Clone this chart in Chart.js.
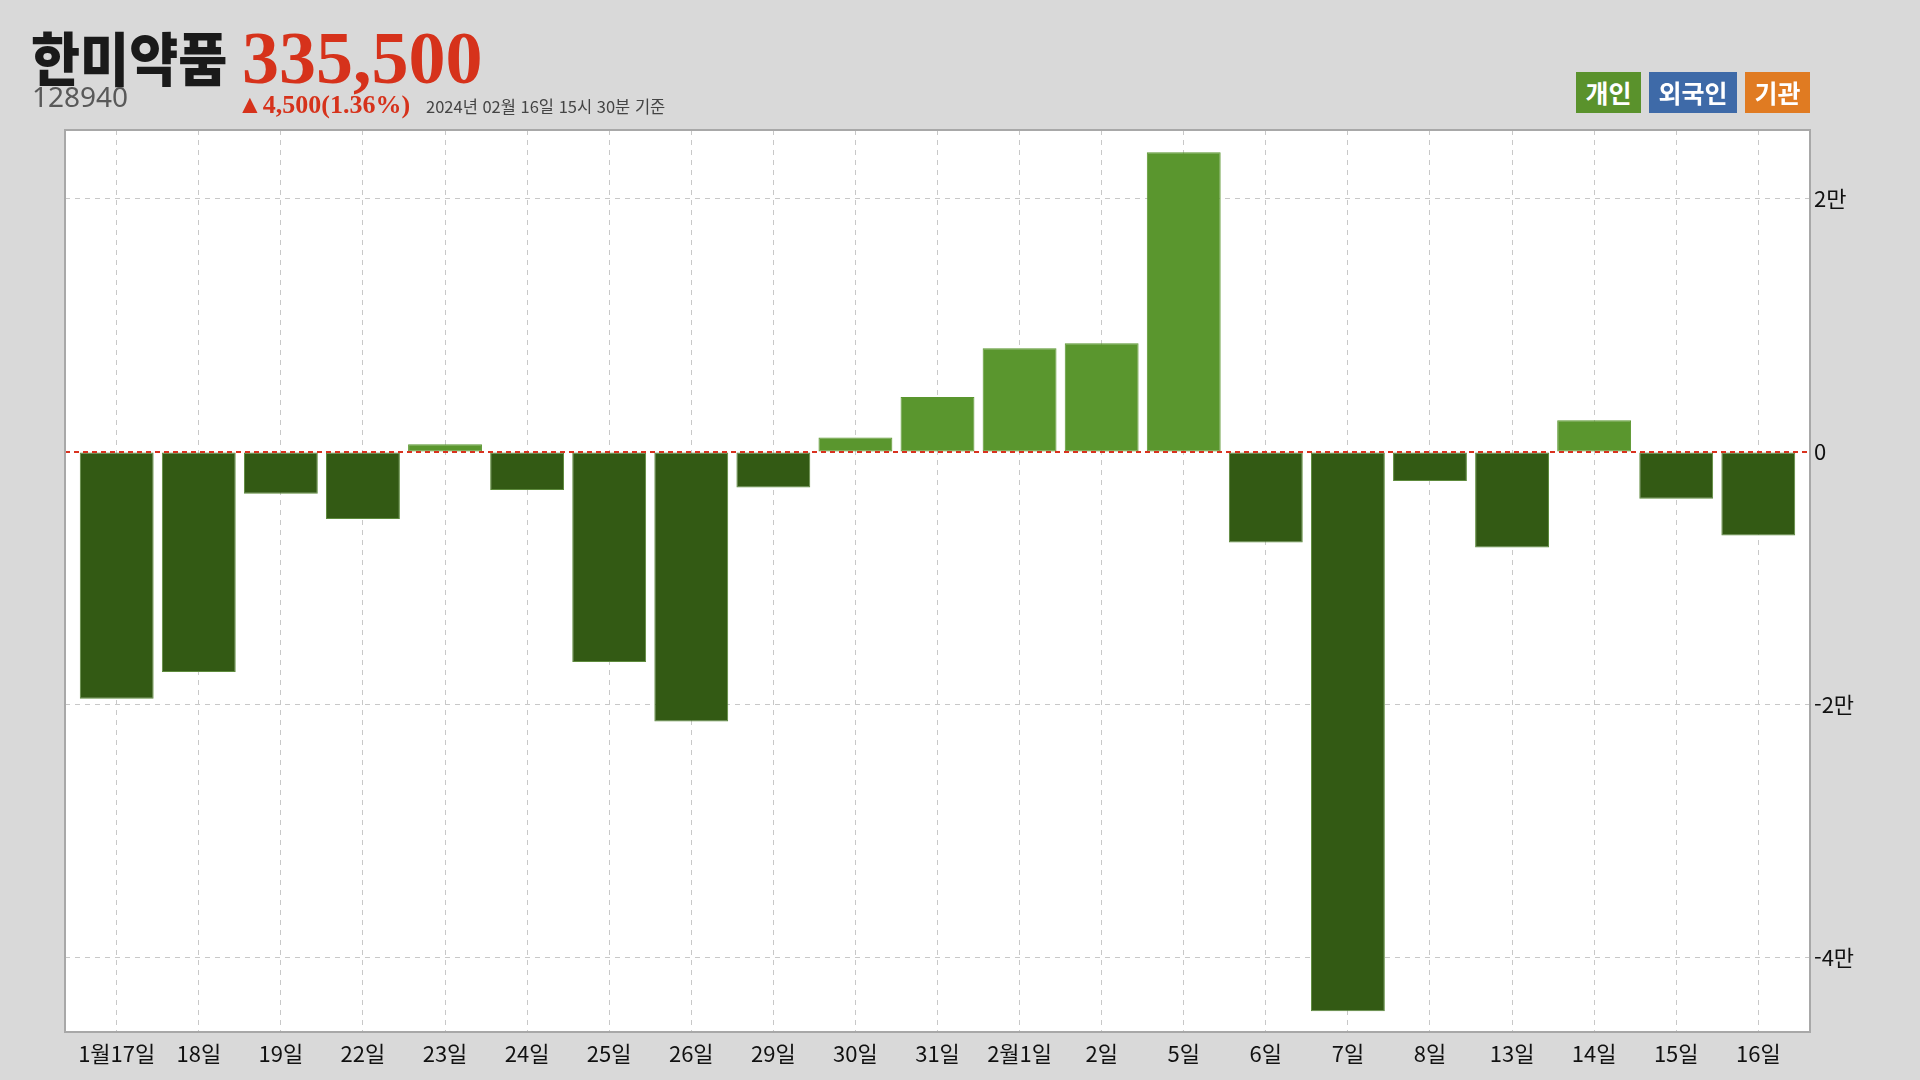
<!DOCTYPE html>
<html lang="ko">
<head>
<meta charset="utf-8">
<script src="https://cdn.jsdelivr.net/npm/chart.js@4.4.1/dist/chart.umd.min.js"></script>
<style>
  html, body { margin: 0; padding: 0; background: #d9d9d9; width: 1920px; height: 1080px; overflow: hidden; }
  #wrap { position: relative; width: 1920px; height: 1080px; }
  canvas { position: absolute; left: 0; top: 0; }
  .t { position: absolute; white-space: nowrap; line-height: 1; }
  #name { left: 31px; top: 27px; font-family: "Noto Sans CJK KR"; font-weight: 900; font-size: 58px; color: #1a1a1a; transform: scaleX(0.92); transform-origin: left top; }
  #price { left: 242px; top: 21px; font-family: "Liberation Serif"; font-weight: 700; font-size: 74px; color: #d6321b; }
  #code { left: 32px; top: 82px; font-family: "Noto Sans"; font-size: 28px; color: #595959; }
  #chg { left: 237px; top: 92px; font-family: "Liberation Serif"; font-weight: 700; font-size: 26px; color: #d6321b; }
  #date { left: 426px; top: 98px; font-family: "Noto Sans CJK KR"; font-size: 16.5px; color: #444; }
  .lg { position: absolute; top: 72px; height: 41px; line-height: 41px; text-align: center; color: #fff; font-family: "Noto Sans CJK KR"; font-weight: 700; font-size: 25px; }
</style>
</head>
<body>
<div id="wrap">
  <canvas id="c" width="1920" height="1080"></canvas>
  <div class="t" id="name">한미약품</div>
  <div class="t" id="price">335,500</div>
  <div class="t" id="code">128940</div>
  <div class="t" id="chg">▲4,500(1.36%)</div>
  <div class="t" id="date">2024년 02월 16일 15시 30분 기준</div>
  <div class="lg" style="left:1576px;width:65px;background:#5a922c;">개인</div>
  <div class="lg" style="left:1649px;width:88px;background:#3e6aa8;">외국인</div>
  <div class="lg" style="left:1745px;width:65px;background:#e07b22;">기관</div>
</div>
<script>
const categories = ["1월17일","18일","19일","22일","23일","24일","25일","26일","29일","30일","31일","2월1일","2일","5일","6일","7일","8일","13일","14일","15일","16일"];
const individualNet = [-19500,-17400,-3300,-5300,600,-3000,-16600,-21300,-2800,1150,4350,8200,8600,23700,-7150,-44200,-2300,-7550,2500,-3700,-6600];
const yTickValues = [-40000,-20000,0,20000];
const yMin = -45850;
const yMax = 25450;
const xPad = 0.63;

const posColor = '#5a962e';
const negColor = '#335a14';

const frame = {
  id: 'frame',
  beforeDraw(chart) {
    const a = chart.chartArea, ctx = chart.ctx;
    ctx.save();
    ctx.fillStyle = '#ffffff';
    ctx.fillRect(a.left, a.top, a.right - a.left, a.bottom - a.top);
    ctx.restore();
  },
  afterDatasetsDraw(chart) {
    const a = chart.chartArea, ctx = chart.ctx;
    const y0 = chart.scales.y.getPixelForValue(0);
    ctx.save();
    ctx.strokeStyle = '#d9321f';
    ctx.lineWidth = 2;
    ctx.setLineDash([5, 4]);
    ctx.beginPath();
    ctx.moveTo(a.left, y0);
    ctx.lineTo(a.right, y0);
    ctx.stroke();
    ctx.restore();
  },
  afterDraw(chart) {
    const a = chart.chartArea, ctx = chart.ctx;
    ctx.save();
    ctx.strokeStyle = '#a8a8a8';
    ctx.lineWidth = 2;
    ctx.strokeRect(a.left, a.top, a.right - a.left, a.bottom - a.top);
    ctx.restore();
  }
};

new Chart(document.getElementById('c'), {
  type: 'bar',
  data: {
    datasets: [{
      label: '개인',
      data: individualNet.map((v, i) => ({ x: i, y: v })),
      backgroundColor: individualNet.map(v => v >= 0 ? posColor : negColor),
      borderColor: individualNet.map(v => v >= 0 ? posColor : '#5d8a3c'),
      borderWidth: 1,
      borderSkipped: false,
      barPercentage: 0.9,
      categoryPercentage: 1.0
    }]
  },
  options: {
    responsive: false,
    devicePixelRatio: 1,
    animation: false,
    layout: { padding: { top: 130, left: 65, right: 0, bottom: 0 } },
    plugins: { legend: { display: false }, tooltip: { enabled: false } },
    scales: {
      x: {
        type: 'linear',
        offset: false,
        min: -xPad,
        max: categories.length - 1 + xPad,
        afterBuildTicks(s) { s.ticks = categories.map((c, i) => ({ value: i })); },
        grid: { offset: false, color: '#c8c8c8', lineWidth: 1, drawTicks: false },
        border: { display: false, dash: [5, 5] },
        ticks: {
          color: '#111', font: { family: 'Noto Sans CJK KR', size: 22 }, padding: 8, maxRotation: 0, autoSkip: false,
          callback: v => categories[v]
        },
        afterFit(s) { s.height = 48; }
      },
      y: {
        position: 'right',
        min: yMin,
        max: yMax,
        afterBuildTicks(s) { s.ticks = yTickValues.map(v => ({ value: v })); },
        grid: { color: ctx => (ctx.tick && ctx.tick.value === 0) ? 'rgba(0,0,0,0)' : '#c8c8c8', lineWidth: 1, drawTicks: false },
        border: { display: false, dash: [5, 5] },
        ticks: {
          color: '#111',
          font: { family: 'Noto Sans CJK KR', size: 22 },
          padding: 4,
          callback: v => v === 0 ? '0' : (v / 10000) + '만'
        },
        afterFit(s) { s.width = 110; }
      }
    }
  },
  plugins: [frame]
});
</script>
</body>
</html>
